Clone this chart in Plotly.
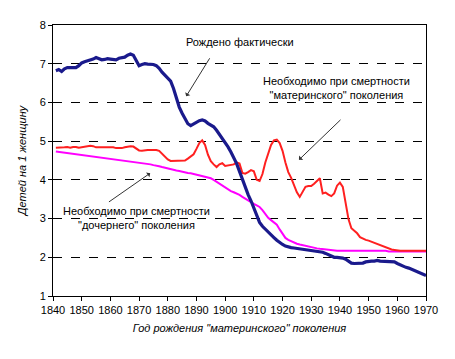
import plotly.graph_objects as go

years = list(range(1841, 1971))

born_actual = [
    6.82, 6.85, 6.80, 6.87, 6.90, 6.90, 6.88, 6.90, 6.95, 7.02,
    7.05, 7.07, 7.11, 7.12, 7.16, 7.12, 7.10, 7.11, 7.13, 7.12,
    7.11, 7.10, 7.14, 7.15, 7.17, 7.22, 7.25, 7.22, 7.08, 6.95,
    6.98, 7.00, 6.99, 6.99, 6.98, 6.95, 6.88, 6.78, 6.70, 6.62,
    6.55, 6.36, 6.10, 5.88, 5.72, 5.60, 5.45, 5.40, 5.45, 5.50,
    5.53, 5.55, 5.52, 5.46, 5.41, 5.37, 5.28, 5.18, 5.07, 4.98,
    4.85, 4.72, 4.58, 4.42, 4.22, 4.00, 3.80, 3.62, 3.46, 3.28,
    3.08, 2.90, 2.80, 2.72, 2.64, 2.58, 2.51, 2.44, 2.38, 2.33,
    2.29, 2.26, 2.25, 2.24, 2.23, 2.23, 2.22, 2.21, 2.20, 2.19,
    2.18, 2.17, 2.15, 2.13, 2.10, 2.06, 2.02, 2.00, 2.00, 2.00,
    1.98, 1.95, 1.90, 1.85, 1.84, 1.84, 1.84, 1.85, 1.88, 1.90,
    1.90, 1.90, 1.92, 1.90, 1.90, 1.90, 1.90, 1.90, 1.88, 1.84,
    1.80, 1.77, 1.74, 1.72, 1.69, 1.67, 1.63, 1.60, 1.56, 1.53,
]

needed_mother = [
    4.83, 4.83, 4.83, 4.84, 4.85, 4.83, 4.85, 4.85, 4.83, 4.84,
    4.85, 4.87, 4.88, 4.87, 4.84, 4.84, 4.84, 4.84, 4.84, 4.84,
    4.84, 4.82, 4.82, 4.82, 4.84, 4.85, 4.87, 4.86, 4.82, 4.76,
    4.75, 4.77, 4.77, 4.77, 4.77, 4.77, 4.75, 4.68, 4.60, 4.53,
    4.49, 4.49, 4.49, 4.49, 4.49, 4.50, 4.55, 4.60, 4.66, 4.80,
    4.95, 5.02, 4.90, 4.65, 4.48, 4.40, 4.33, 4.40, 4.43, 4.36,
    4.38, 4.38, 4.40, 4.45, 4.42, 4.18, 4.16, 4.20, 4.25, 4.22,
    4.00, 3.97, 4.15, 4.45, 4.70, 4.90, 5.02, 5.04, 4.95, 4.75,
    4.45, 4.20, 4.05, 3.85, 3.68, 3.56, 3.70, 3.82, 3.84, 3.84,
    3.90, 3.97, 4.04, 3.65, 3.67, 3.62, 3.58, 3.65, 3.85, 3.93,
    3.82, 3.40, 2.98, 2.75, 2.68, 2.62, 2.52, 2.48, 2.45, 2.43,
    2.40, 2.36, 2.33, 2.30, 2.27, 2.25, 2.22, 2.20, 2.19, 2.17,
    2.17, 2.17, 2.17, 2.17, 2.17, 2.17, 2.17, 2.17, 2.17, 2.17,
]

needed_daughter = [
    4.73, 4.72, 4.72, 4.71, 4.70, 4.69, 4.68, 4.67, 4.66, 4.65,
    4.64, 4.63, 4.62, 4.61, 4.60, 4.59, 4.58, 4.57, 4.56, 4.55,
    4.54, 4.53, 4.52, 4.51, 4.50, 4.49, 4.48, 4.47, 4.46, 4.45,
    4.43, 4.42, 4.41, 4.40, 4.38, 4.37, 4.35, 4.33, 4.31, 4.30,
    4.28, 4.26, 4.24, 4.23, 4.21, 4.20, 4.18, 4.17, 4.15, 4.13,
    4.11, 4.09, 4.07, 4.05, 4.04, 4.00, 3.95, 3.90, 3.85, 3.79,
    3.74, 3.71, 3.68, 3.65, 3.61, 3.56, 3.51, 3.46, 3.42, 3.38,
    3.34, 3.30, 3.22, 3.12, 3.02, 2.96, 2.90, 2.84, 2.72, 2.60,
    2.50, 2.45, 2.41, 2.38, 2.35, 2.33, 2.31, 2.29, 2.27, 2.25,
    2.24, 2.23, 2.22, 2.21, 2.20, 2.19, 2.18, 2.17, 2.17, 2.17,
    2.17, 2.17, 2.17, 2.17, 2.17, 2.17, 2.17, 2.17, 2.17, 2.17,
    2.17, 2.17, 2.17, 2.17, 2.17, 2.17, 2.15, 2.15, 2.15, 2.15,
    2.15, 2.15, 2.15, 2.15, 2.15, 2.15, 2.15, 2.15, 2.15, 2.15,
]

x_ticks = list(range(1840, 1971, 10))
y_ticks = list(range(1, 9))

FONT = "Liberation Sans, Arial, sans-serif"

# page body has an 8px default margin; compensate so the plot lands where it should
OFF = 8
W, H = 455 - OFF, 359 - OFF
L, R, T, B = 53 - OFF, 29, 25 - OFF, 63

fig = go.Figure()
fig.add_trace(go.Scatter(x=years, y=needed_daughter, mode="lines",
                         line=dict(color="#FF00FF", width=2), showlegend=False))
fig.add_trace(go.Scatter(x=years, y=needed_mother, mode="lines",
                         line=dict(color="#FF2020", width=2), showlegend=False))
fig.add_trace(go.Scatter(x=years, y=born_actual, mode="lines",
                         line=dict(color="#1A1A8C", width=3.2), showlegend=False))

arrow_style = dict(xref="x", yref="y", axref="x", ayref="y", text="", showarrow=True,
                   arrowhead=2, arrowsize=1.6, arrowwidth=1, arrowcolor="#333333",
                   standoff=0, startstandoff=0, arrowside="start")

annotations = [
    dict(x=1894.6, y=7.14, ax=1886.1, ay=6.12, **arrow_style),
    dict(x=1940.2, y=5.55, ax=1925.2, ay=4.48, **arrow_style),
    dict(x=1859.5, y=3.43, ax=1874.4, ay=4.20, **arrow_style),
    dict(x=240, y=41.7, xref="paper", yref="paper", text="Рождено фактически",
         showarrow=False, font=dict(size=11, color="black", family=FONT)),
    dict(x=336.7, y=88, xref="paper", yref="paper",
         text="Необходимо при смертности<br>\"материнского\" поколения",
         showarrow=False, font=dict(size=11, color="black", family=FONT)),
    dict(x=136, y=218, xref="paper", yref="paper",
         text="Необходимо при смертности<br>\"дочернего\" поколения",
         showarrow=False, font=dict(size=11, color="black", family=FONT)),
]

# text annotations given in reference page pixels -> paper coords
pw, ph = 455 - 53 - 29, 359 - 25 - 63
for a in annotations:
    if a.get("xref") == "paper":
        a["x"] = (a["x"] - 53) / pw
        a["y"] = 1 - (a["y"] - 25) / ph
        a["xanchor"] = "center"
        a["yanchor"] = "middle"

fig.update_layout(
    width=W, height=H,
    margin=dict(l=L, r=R, t=T, b=B),
    paper_bgcolor="white", plot_bgcolor="white",
    font=dict(family=FONT, size=11, color="black"),
    annotations=annotations,
    xaxis=dict(range=[1840, 1970], tickvals=x_ticks, ticktext=[str(v) for v in x_ticks],
               showgrid=False, zeroline=False, showline=True, linecolor="black", linewidth=1,
               mirror=True, ticks="outside", ticklen=4, tickcolor="black",
               tickfont=dict(size=11),
               title=dict(text="<i>Год рождения \"материнского\" поколения</i>",
                          font=dict(size=11), standoff=9)),
    yaxis=dict(range=[1, 8], tickvals=y_ticks, showgrid=True, gridcolor="black",
               griddash="dash", gridwidth=1, zeroline=False, showline=True,
               linecolor="black", linewidth=1, mirror=True, ticks="outside",
               ticklen=4, tickcolor="black", tickfont=dict(size=11),
               title=dict(text="<i>Детей на 1 женщину</i>", font=dict(size=11), standoff=10)),
)

fig.write_html("out.html")
